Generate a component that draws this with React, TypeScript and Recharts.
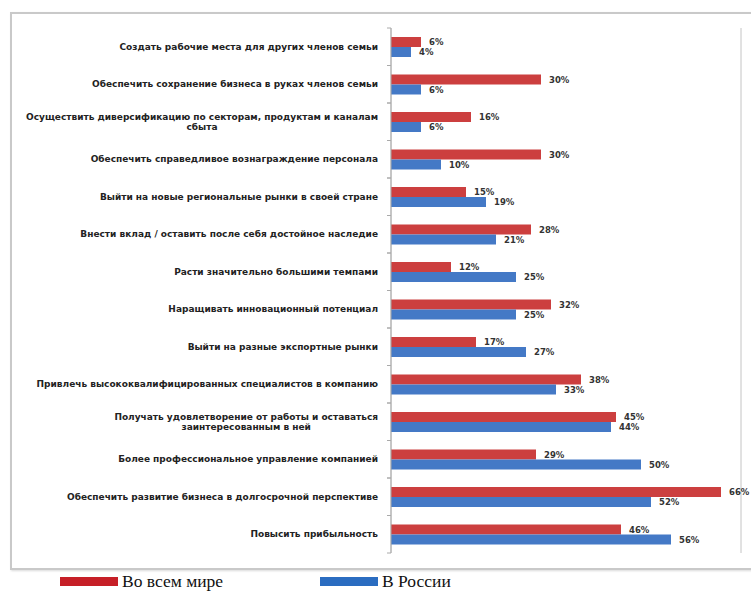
import { BarChart, Bar, XAxis, YAxis, CartesianGrid, LabelList } from 'recharts';

const categories = [
  'Создать рабочие места для других членов семьи',
  'Обеспечить сохранение бизнеса в руках членов семьи',
  'Осуществить диверсификацию по секторам, продуктам и каналам\nсбыта',
  'Обеспечить справедливое вознаграждение персонала',
  'Выйти на новые региональные рынки в своей стране',
  'Внести вклад / оставить после себя достойное наследие',
  'Расти значительно большими темпами',
  'Наращивать инновационный потенциал',
  'Выйти на разные экспортные рынки',
  'Привлечь высококвалифицированных специалистов в компанию',
  'Получать удовлетворение от работы и оставаться\nзаинтересованным в ней',
  'Более профессиональное управление компанией',
  'Обеспечить развитие бизнеса в долгосрочной перспективе',
  'Повысить прибыльность',
];
const worldValues = [6, 30, 16, 30, 15, 28, 12, 32, 17, 38, 45, 29, 66, 46];
const russiaValues = [4, 6, 6, 10, 19, 21, 25, 25, 27, 33, 44, 50, 52, 56];
const xTicks = [0, 10, 20, 30, 40, 50, 60, 70];

const data = categories.map((name, i) => ({
  name,
  world: worldValues[i],
  russia: russiaValues[i],
}));

const RED = '#cc3f3f';
const BLUE = '#4479c6';
const PLOT_LEFT = 391;
const PLOT_TOP = 28;
const PLOT_BOTTOM = 553;
const LABEL_FONT = 'bold 9px "DejaVu Sans"';

let ctx: CanvasRenderingContext2D | null = null;
function textWidth(s: string) {
  if (!ctx) ctx = document.createElement('canvas').getContext('2d');
  if (!ctx) return s.length * 5;
  ctx.font = LABEL_FONT;
  return ctx.measureText(s).width;
}

function CategoryTick({ y, payload }: any) {
  const lines = String(payload.value).split('\n');
  const half = (PLOT_BOTTOM - PLOT_TOP) / categories.length / 2;
  const right = PLOT_LEFT - 13;
  const lineH = 10.5;
  const widest = Math.max(...lines.map(textWidth));
  const cx = right - widest / 2;
  const y0 = y - ((lines.length - 1) * lineH) / 2;
  return (
    <g>
      <line x1={PLOT_LEFT - 4} x2={PLOT_LEFT} y1={y - half} y2={y - half} stroke="#aaa" />
      <line x1={PLOT_LEFT - 4} x2={PLOT_LEFT} y1={y + half} y2={y + half} stroke="#aaa" />
      {lines.map((l, i) => (
        <text
          key={i}
          x={lines.length > 1 ? cx : right}
          y={y0 + i * lineH}
          dy="0.35em"
          textAnchor={lines.length > 1 ? 'middle' : 'end'}
          fill="#222"
          style={{ font: LABEL_FONT }}
        >
          {l}
        </text>
      ))}
    </g>
  );
}

const pct = (v: any) => `${v}%`;

export default function App() {
  return (
    <div style={{ position: 'absolute', left: 0, top: 0, width: 751, height: 591, background: '#fff', overflow: 'hidden' }}>
      <div
        style={{
          position: 'absolute',
          left: 10,
          top: 12,
          width: 760,
          height: 554,
          border: '2px solid #c9c9c9',
          boxShadow: '1px 1px 2px rgba(0,0,0,0.15)',
        }}
      />
      <div style={{ position: 'absolute', left: 0, top: 0 }}>
        <BarChart
          width={751}
          height={591}
          data={data}
          layout="vertical"
          margin={{ top: PLOT_TOP, right: 10, bottom: 591 - PLOT_BOTTOM, left: 0 }}
          barSize={10}
          barGap={0}
        >
          <CartesianGrid horizontal={false} vertical stroke="#c4c4c4" />
          <XAxis
            type="number"
            domain={[0, 70]}
            ticks={xTicks}
            tick={false}
            tickLine={false}
            axisLine={false}
            height={0}
          />
          <YAxis
            type="category"
            dataKey="name"
            width={PLOT_LEFT}
            interval={0}
            tick={<CategoryTick />}
            tickLine={false}
            axisLine={{ stroke: '#aaa' }}
          />
          <Bar dataKey="world" fill={RED} isAnimationActive={false}>
            <LabelList
              dataKey="world"
              position="right"
              offset={8}
              formatter={pct}
              fill="#333"
              fontSize={8.5}
              fontWeight="bold"
              fontFamily="DejaVu Sans"
            />
          </Bar>
          <Bar dataKey="russia" fill={BLUE} isAnimationActive={false}>
            <LabelList
              dataKey="russia"
              position="right"
              offset={8}
              formatter={pct}
              fill="#333"
              fontSize={8.5}
              fontWeight="bold"
              fontFamily="DejaVu Sans"
            />
          </Bar>
        </BarChart>
      </div>
      <div
        style={{
          position: 'absolute',
          top: 571,
          left: 60,
          display: 'flex',
          alignItems: 'center',
          fontFamily: '"Liberation Serif", serif',
          fontSize: 17.5,
          color: '#111',
        }}
      >
        <span style={{ display: 'inline-block', width: 58, height: 9, background: '#c61f27', marginRight: 4 }} />
        <span style={{ width: 198 }}>Во всем мире</span>
        <span style={{ display: 'inline-block', width: 58, height: 9, background: '#2a6cc0', marginRight: 4 }} />
        <span>В России</span>
      </div>
    </div>
  );
}
